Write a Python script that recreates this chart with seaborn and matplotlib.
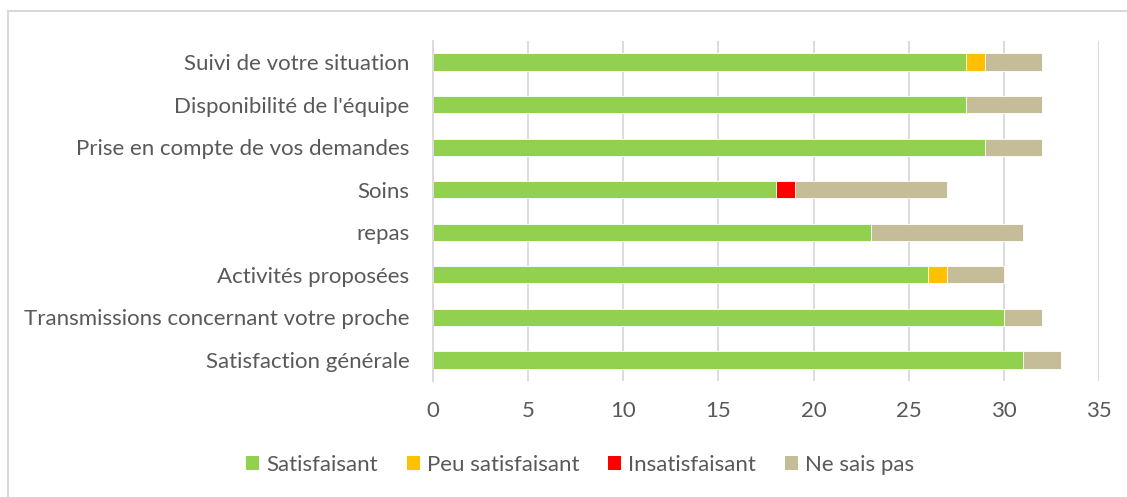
import matplotlib
matplotlib.use("Agg")
import matplotlib.pyplot as plt
import seaborn as sns
import pandas as pd
import numpy as np
from matplotlib.lines import Line2D
from matplotlib.patches import Patch

categories = ["Suivi de votre situation", "Disponibilité de l'équipe",
              "Prise en compte de vos demandes", "Soins", "repas",
              "Activités proposées", "Transmissions concernant votre proche",
              "Satisfaction générale"]
satisfaisant = [28, 28, 29, 18, 23, 26, 30, 31]
peu_satisfaisant = [1, 0, 0, 0, 0, 1, 0, 0]
insatisfaisant = [0, 0, 0, 1, 0, 0, 0, 0]
ne_sais_pas = [3, 4, 3, 8, 8, 3, 2, 2]
series_names = ["Satisfaisant", "Peu satisfaisant", "Insatisfaisant", "Ne sais pas"]
colors = ["#92D050", "#FFC000", "#FF0000", "#C4BD97"]
xticks = [0, 5, 10, 15, 20, 25, 30, 35]

sns.set_style("white")
plt.rcParams['font.family'] = ['Lato', 'DejaVu Sans']
text_color = "#595959"

values = [satisfaisant, peu_satisfaisant, insatisfaisant, ne_sais_pas]
cum = np.cumsum(np.array(values), axis=0)

fig = plt.figure(figsize=(11.27, 4.97), dpi=100)
ax = fig.add_axes([433/1127, 1-381.3/497, (1099-433)/1127, (381.3-40.7)/497])

# draw cumulative totals from largest to smallest so segments appear stacked
for i in range(len(series_names) - 1, -1, -1):
    df = pd.DataFrame({"cat": categories, "val": cum[i]})
    sns.barplot(data=df, x="val", y="cat", order=categories, color=colors[i],
                width=0.4, saturation=1, ax=ax, orient="h", zorder=2,
                edgecolor="white", linewidth=0.6)

ax.set_xlim(0, 35)
ax.set_xticks(xticks)
ax.set_xlabel("")
ax.set_ylabel("")
ax.grid(axis="x", color="#D9D9D9", linewidth=1.3, zorder=0)
ax.grid(axis="y", visible=False)
for s in ["top", "right", "bottom"]:
    ax.spines[s].set_visible(False)
ax.spines["left"].set_color("#D9D9D9")
ax.spines["left"].set_linewidth(1.3)
ax.tick_params(axis="both", length=0, colors=text_color, labelsize=16)
ax.tick_params(axis="y", pad=17)
ax.tick_params(axis="x", pad=14)

handles = [Patch(facecolor=c, edgecolor="none") for c in colors]
fig.legend(handles, series_names, loc="center", bbox_to_anchor=(580/1127, 1-465/497),
           ncol=4, frameon=False, fontsize=16, labelcolor=text_color,
           handlelength=0.6, handleheight=0.6, handletextpad=0.3, columnspacing=1.3)

# figure border (top and left visible)
fig.add_artist(Line2D([8/1127, 1], [1-11/497, 1-11/497], transform=fig.transFigure, color="#D9D9D9", linewidth=1.5))
fig.add_artist(Line2D([8/1127, 8/1127], [0, 1-11/497], transform=fig.transFigure, color="#D9D9D9", linewidth=1.5))

fig.savefig("out.png", dpi=100)
